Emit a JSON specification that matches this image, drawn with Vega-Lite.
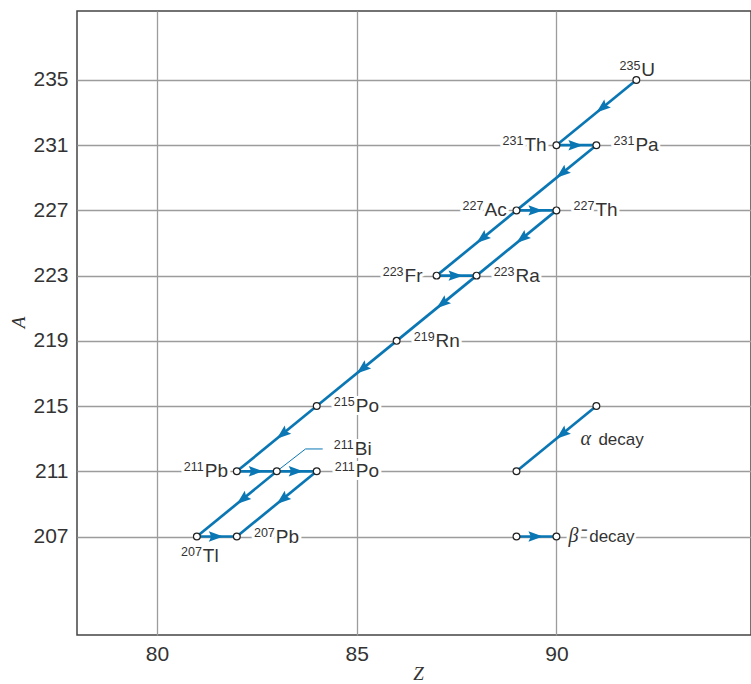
{
  "$schema": "https://vega.github.io/schema/vega-lite/v6.json",
  "autosize": "none",
  "width": 674,
  "height": 624,
  "padding": {"left": 77, "top": 11, "right": 0, "bottom": 49},
  "background": "white",
  "config": {
    "view": {"stroke": "#444444", "strokeWidth": 1.5},
    "font": "Liberation Sans",
    "text": {"font": "Liberation Sans"},
    "axis": {
      "domain": false,
      "ticks": false,
      "grid": true,
      "gridColor": "#9c9c9c",
      "gridWidth": 1.3,
      "labelFont": "Liberation Sans",
      "labelFontSize": 21,
      "labelColor": "#333333",
      "titleFont": "Liberation Serif",
      "titleFontStyle": "italic",
      "titleFontWeight": "normal",
      "titleFontSize": 19,
      "titleColor": "#333333"
    }
  },
  "datasets": {
    "nuclides": [
      {"z": 92, "a": 235, "mass": "235", "sym": "U", "pos": "above"},
      {"z": 90, "a": 231, "mass": "231", "sym": "Th", "pos": "left"},
      {"z": 91, "a": 231, "mass": "231", "sym": "Pa", "pos": "right"},
      {"z": 89, "a": 227, "mass": "227", "sym": "Ac", "pos": "left"},
      {"z": 90, "a": 227, "mass": "227", "sym": "Th", "pos": "right"},
      {"z": 87, "a": 223, "mass": "223", "sym": "Fr", "pos": "left"},
      {"z": 88, "a": 223, "mass": "223", "sym": "Ra", "pos": "right"},
      {"z": 86, "a": 219, "mass": "219", "sym": "Rn", "pos": "right"},
      {"z": 84, "a": 215, "mass": "215", "sym": "Po", "pos": "right"},
      {"z": 82, "a": 211, "mass": "211", "sym": "Pb", "pos": "left"},
      {"z": 83, "a": 211, "mass": "211", "sym": "Bi", "pos": "leader"},
      {"z": 84, "a": 211, "mass": "211", "sym": "Po", "pos": "right"},
      {"z": 81, "a": 207, "mass": "207", "sym": "Tl", "pos": "below"},
      {"z": 82, "a": 207, "mass": "207", "sym": "Pb", "pos": "right"},
      {"z": 91, "a": 215, "mass": "", "sym": "", "pos": "none"},
      {"z": 89, "a": 211, "mass": "", "sym": "", "pos": "none"},
      {"z": 89, "a": 207, "mass": "", "sym": "", "pos": "none"},
      {"z": 90, "a": 207, "mass": "", "sym": "", "pos": "none"}
    ],
    "decays": [
      {"z": 92, "a": 235, "z2": 90, "a2": 231, "type": "alpha"},
      {"z": 90, "a": 231, "z2": 91, "a2": 231, "type": "beta"},
      {"z": 91, "a": 231, "z2": 89, "a2": 227, "type": "alpha"},
      {"z": 89, "a": 227, "z2": 90, "a2": 227, "type": "beta"},
      {"z": 89, "a": 227, "z2": 87, "a2": 223, "type": "alpha"},
      {"z": 90, "a": 227, "z2": 88, "a2": 223, "type": "alpha"},
      {"z": 87, "a": 223, "z2": 88, "a2": 223, "type": "beta"},
      {"z": 88, "a": 223, "z2": 86, "a2": 219, "type": "alpha"},
      {"z": 86, "a": 219, "z2": 84, "a2": 215, "type": "alpha"},
      {"z": 84, "a": 215, "z2": 82, "a2": 211, "type": "alpha"},
      {"z": 82, "a": 211, "z2": 83, "a2": 211, "type": "beta"},
      {"z": 83, "a": 211, "z2": 84, "a2": 211, "type": "beta"},
      {"z": 83, "a": 211, "z2": 81, "a2": 207, "type": "alpha"},
      {"z": 84, "a": 211, "z2": 82, "a2": 207, "type": "alpha"},
      {"z": 81, "a": 207, "z2": 82, "a2": 207, "type": "beta"},
      {"z": 91, "a": 215, "z2": 89, "a2": 211, "type": "alpha"},
      {"z": 89, "a": 207, "z2": 90, "a2": 207, "type": "beta"}
    ],
    "arrows": [
      {"z": 91, "a": 233, "type": "alpha"},
      {"z": 90, "a": 229, "type": "alpha"},
      {"z": 88, "a": 225, "type": "alpha"},
      {"z": 89, "a": 225, "type": "alpha"},
      {"z": 87, "a": 221, "type": "alpha"},
      {"z": 85, "a": 217, "type": "alpha"},
      {"z": 83, "a": 213, "type": "alpha"},
      {"z": 82, "a": 209, "type": "alpha"},
      {"z": 83, "a": 209, "type": "alpha"},
      {"z": 90, "a": 213, "type": "alpha"},
      {"z": 90.5, "a": 231, "type": "beta"},
      {"z": 89.5, "a": 227, "type": "beta"},
      {"z": 87.5, "a": 223, "type": "beta"},
      {"z": 82.5, "a": 211, "type": "beta"},
      {"z": 83.5, "a": 211, "type": "beta"},
      {"z": 81.5, "a": 207, "type": "beta"},
      {"z": 89.5, "a": 207, "type": "beta"}
    ],
    "leader": [
      {"z": 83, "a": 211, "o": 0},
      {"z": 83.72, "a": 212.37, "o": 1},
      {"z": 84.15, "a": 212.37, "o": 2}
    ],
    "legendText": [
      {"z": 90.6, "a": 212.6, "text": "α", "kind": "greek"},
      {"z": 91.05, "a": 212.6, "text": "decay", "kind": "word"},
      {"z": 90.3, "a": 206.65, "text": "β⁻", "kind": "greek"},
      {"z": 90.82, "a": 206.65, "text": "decay", "kind": "word"}
    ]
  },
  "encoding": {
    "x": {
      "field": "z", "type": "quantitative",
      "scale": {"domain": [78, 94.87], "nice": false, "zero": false},
      "axis": {"values": [80, 85, 90], "title": "Z", "labelPadding": 8, "titleX": 341, "titleY": 44, "titleBaseline": "alphabetic"}
    },
    "y": {
      "field": "a", "type": "quantitative",
      "scale": {"domain": [200.96, 239.23], "nice": false, "zero": false},
      "axis": {"values": [207, 211, 215, 219, 223, 227, 231, 235], "title": "A", "labelPadding": 9, "titleX": -59, "titleY": 311, "titleAngle": -90, "titleBaseline": "middle", "titleAlign": "center"}
    }
  },
  "layer": [
    {"data": {"name": "nuclides"}, "transform": [{"filter": "datum.pos == 'right'"}], "mark": {"type": "text", "align": "right", "baseline": "alphabetic", "dx": 38, "dy": 0, "fontSize": 12.5, "fill": "white", "stroke": "white", "strokeWidth": 6, "strokeJoin": "round"}, "encoding": {"text": {"field": "mass"}}},
    {"data": {"name": "nuclides"}, "transform": [{"filter": "datum.pos == 'right'"}], "mark": {"type": "text", "align": "left", "baseline": "alphabetic", "dx": 39, "dy": 6, "fontSize": 19, "fill": "white", "stroke": "white", "strokeWidth": 6, "strokeJoin": "round"}, "encoding": {"text": {"field": "sym"}}},
    {"data": {"name": "nuclides"}, "transform": [{"filter": "datum.pos == 'left'"}], "mark": {"type": "text", "align": "right", "baseline": "alphabetic", "dx": -33, "dy": 0, "fontSize": 12.5, "fill": "white", "stroke": "white", "strokeWidth": 6, "strokeJoin": "round"}, "encoding": {"text": {"field": "mass"}}},
    {"data": {"name": "nuclides"}, "transform": [{"filter": "datum.pos == 'left'"}], "mark": {"type": "text", "align": "left", "baseline": "alphabetic", "dx": -32, "dy": 6, "fontSize": 19, "fill": "white", "stroke": "white", "strokeWidth": 6, "strokeJoin": "round"}, "encoding": {"text": {"field": "sym"}}},
    {"data": {"name": "nuclides"}, "transform": [{"filter": "datum.pos == 'above'"}], "mark": {"type": "text", "align": "right", "baseline": "alphabetic", "dx": 4, "dy": -10, "fontSize": 12.5, "fill": "white", "stroke": "white", "strokeWidth": 6, "strokeJoin": "round"}, "encoding": {"text": {"field": "mass"}}},
    {"data": {"name": "nuclides"}, "transform": [{"filter": "datum.pos == 'above'"}], "mark": {"type": "text", "align": "left", "baseline": "alphabetic", "dx": 5, "dy": -4, "fontSize": 19, "fill": "white", "stroke": "white", "strokeWidth": 6, "strokeJoin": "round"}, "encoding": {"text": {"field": "sym"}}},
    {"data": {"name": "nuclides"}, "transform": [{"filter": "datum.pos == 'below'"}], "mark": {"type": "text", "align": "right", "baseline": "alphabetic", "dx": 5, "dy": 19, "fontSize": 12.5, "fill": "white", "stroke": "white", "strokeWidth": 6, "strokeJoin": "round"}, "encoding": {"text": {"field": "mass"}}},
    {"data": {"name": "nuclides"}, "transform": [{"filter": "datum.pos == 'below'"}], "mark": {"type": "text", "align": "left", "baseline": "alphabetic", "dx": 6, "dy": 25, "fontSize": 19, "fill": "white", "stroke": "white", "strokeWidth": 6, "strokeJoin": "round"}, "encoding": {"text": {"field": "sym"}}},
    {"data": {"name": "nuclides"}, "transform": [{"filter": "datum.pos == 'leader'"}], "mark": {"type": "text", "align": "right", "baseline": "alphabetic", "dx": 77, "dy": -22, "fontSize": 12.5, "fill": "white", "stroke": "white", "strokeWidth": 6, "strokeJoin": "round"}, "encoding": {"text": {"field": "mass"}}},
    {"data": {"name": "nuclides"}, "transform": [{"filter": "datum.pos == 'leader'"}], "mark": {"type": "text", "align": "left", "baseline": "alphabetic", "dx": 78, "dy": -16, "fontSize": 19, "fill": "white", "stroke": "white", "strokeWidth": 6, "strokeJoin": "round"}, "encoding": {"text": {"field": "sym"}}},
    {"data": {"name": "legendText"}, "transform": [{"filter": "datum.kind == 'greek'"}], "mark": {"type": "text", "align": "left", "baseline": "alphabetic", "font": "Liberation Serif", "fontStyle": "italic", "fontSize": 20, "fill": "white", "stroke": "white", "strokeWidth": 6, "strokeJoin": "round"}, "encoding": {"text": {"field": "text"}}},
    {"data": {"name": "legendText"}, "transform": [{"filter": "datum.kind == 'word'"}], "mark": {"type": "text", "align": "left", "baseline": "alphabetic", "fontSize": 17, "fill": "white", "stroke": "white", "strokeWidth": 6, "strokeJoin": "round"}, "encoding": {"text": {"field": "text"}}},
    {"data": {"name": "decays"}, "mark": {"type": "rule", "color": "#0a77b4", "strokeWidth": 2.7}, "encoding": {"x2": {"field": "z2"}, "y2": {"field": "a2"}}},
    {"data": {"name": "leader"}, "mark": {"type": "line", "color": "#0a77b4", "strokeWidth": 1}, "encoding": {"order": {"field": "o", "type": "quantitative"}}},
    {"data": {"name": "arrows"}, "transform": [{"filter": "datum.type == 'alpha'"}], "mark": {"type": "point", "shape": "M0,0L0.65,1.8L0,1.5L-0.65,1.8Z", "size": 256, "angle": 231, "filled": true, "color": "#0a77b4", "opacity": 1, "strokeWidth": 0}},
    {"data": {"name": "arrows"}, "transform": [{"filter": "datum.type == 'beta'"}], "mark": {"type": "point", "shape": "M0,-0.8L0.65,1L0,0.7L-0.65,1Z", "size": 256, "angle": 90, "filled": true, "color": "#0a77b4", "opacity": 1, "strokeWidth": 0}},
    {"data": {"name": "nuclides"}, "mark": {"type": "point", "shape": "circle", "size": 46, "filled": false, "fill": "white", "fillOpacity": 1, "stroke": "#222222", "strokeWidth": 1.2, "opacity": 1}},
    {"data": {"name": "nuclides"}, "transform": [{"filter": "datum.pos == 'right'"}], "mark": {"type": "text", "align": "right", "baseline": "alphabetic", "dx": 38, "dy": 0, "fontSize": 12.5, "color": "#333333"}, "encoding": {"text": {"field": "mass"}}},
    {"data": {"name": "nuclides"}, "transform": [{"filter": "datum.pos == 'right'"}], "mark": {"type": "text", "align": "left", "baseline": "alphabetic", "dx": 39, "dy": 6, "fontSize": 19, "color": "#333333"}, "encoding": {"text": {"field": "sym"}}},
    {"data": {"name": "nuclides"}, "transform": [{"filter": "datum.pos == 'left'"}], "mark": {"type": "text", "align": "right", "baseline": "alphabetic", "dx": -33, "dy": 0, "fontSize": 12.5, "color": "#333333"}, "encoding": {"text": {"field": "mass"}}},
    {"data": {"name": "nuclides"}, "transform": [{"filter": "datum.pos == 'left'"}], "mark": {"type": "text", "align": "left", "baseline": "alphabetic", "dx": -32, "dy": 6, "fontSize": 19, "color": "#333333"}, "encoding": {"text": {"field": "sym"}}},
    {"data": {"name": "nuclides"}, "transform": [{"filter": "datum.pos == 'above'"}], "mark": {"type": "text", "align": "right", "baseline": "alphabetic", "dx": 4, "dy": -10, "fontSize": 12.5, "color": "#333333"}, "encoding": {"text": {"field": "mass"}}},
    {"data": {"name": "nuclides"}, "transform": [{"filter": "datum.pos == 'above'"}], "mark": {"type": "text", "align": "left", "baseline": "alphabetic", "dx": 5, "dy": -4, "fontSize": 19, "color": "#333333"}, "encoding": {"text": {"field": "sym"}}},
    {"data": {"name": "nuclides"}, "transform": [{"filter": "datum.pos == 'below'"}], "mark": {"type": "text", "align": "right", "baseline": "alphabetic", "dx": 5, "dy": 19, "fontSize": 12.5, "color": "#333333"}, "encoding": {"text": {"field": "mass"}}},
    {"data": {"name": "nuclides"}, "transform": [{"filter": "datum.pos == 'below'"}], "mark": {"type": "text", "align": "left", "baseline": "alphabetic", "dx": 6, "dy": 25, "fontSize": 19, "color": "#333333"}, "encoding": {"text": {"field": "sym"}}},
    {"data": {"name": "nuclides"}, "transform": [{"filter": "datum.pos == 'leader'"}], "mark": {"type": "text", "align": "right", "baseline": "alphabetic", "dx": 77, "dy": -22, "fontSize": 12.5, "color": "#333333"}, "encoding": {"text": {"field": "mass"}}},
    {"data": {"name": "nuclides"}, "transform": [{"filter": "datum.pos == 'leader'"}], "mark": {"type": "text", "align": "left", "baseline": "alphabetic", "dx": 78, "dy": -16, "fontSize": 19, "color": "#333333"}, "encoding": {"text": {"field": "sym"}}},
    {"data": {"name": "legendText"}, "transform": [{"filter": "datum.kind == 'greek'"}], "mark": {"type": "text", "align": "left", "baseline": "alphabetic", "font": "Liberation Serif", "fontStyle": "italic", "fontSize": 20, "color": "#333333"}, "encoding": {"text": {"field": "text"}}},
    {"data": {"name": "legendText"}, "transform": [{"filter": "datum.kind == 'word'"}], "mark": {"type": "text", "align": "left", "baseline": "alphabetic", "fontSize": 17, "color": "#333333"}, "encoding": {"text": {"field": "text"}}}
  ]
}
